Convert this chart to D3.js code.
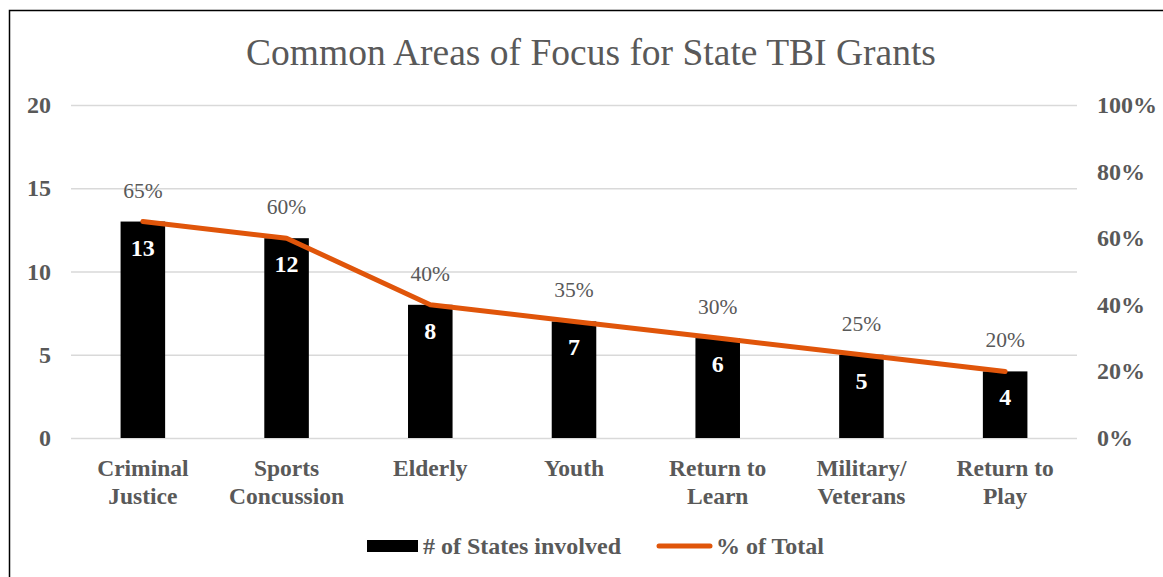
<!DOCTYPE html>
<html>
<head>
<meta charset="utf-8">
<script src="https://cdn.jsdelivr.net/npm/d3@7"></script>
<style>
  body { margin: 0; background: #fff; }
  svg { font-family: "Liberation Serif", "Times New Roman", serif; }
</style>
</head>
<body>
<div id="chart"></div>
<script>
// Chart data
var categories = [
  ['Criminal', 'Justice'],
  ['Sports', 'Concussion'],
  ['Elderly'],
  ['Youth'],
  ['Return to', 'Learn'],
  ['Military/', 'Veterans'],
  ['Return to', 'Play']
];
var stateCounts = [13, 12, 8, 7, 6, 5, 4];
var pctOfTotal = [0.65, 0.60, 0.40, 0.35, 0.30, 0.25, 0.20];
var leftTicks = [0, 5, 10, 15, 20];
var rightTicks = [0, 0.2, 0.4, 0.6, 0.8, 1.0];

var width = 1163, height = 577;
var grey = '#595959';
var orange = '#E0550A';

var svg = d3.select('#chart').append('svg')
  .attr('width', width)
  .attr('height', height);

// Outer chart border
svg.append('rect')
  .attr('x', 9.5).attr('y', 10.5)
  .attr('width', 1170).attr('height', 600)
  .attr('fill', 'none')
  .attr('stroke', '#000')
  .attr('stroke-width', 1.5);

// Title
svg.append('text')
  .attr('x', 591).attr('y', 65)
  .attr('text-anchor', 'middle')
  .style('font-size', '37.5px')
  .style('fill', grey)
  .text('Common Areas of Focus for State TBI Grants');

var plot = { left: 71, right: 1077, top: 105, bottom: 438 };

var x = d3.scaleBand()
  .domain(d3.range(categories.length))
  .range([plot.left, plot.right])
  .paddingInner(0.69)
  .paddingOuter(0.345);

var yLeft = d3.scaleLinear().domain([0, 20]).range([plot.bottom, plot.top]);
var yRight = d3.scaleLinear().domain([0, 1]).range([plot.bottom, plot.top]);

// Gridlines
svg.append('g')
  .selectAll('line')
  .data(leftTicks)
  .enter()
  .append('line')
  .attr('x1', plot.left).attr('x2', plot.right)
  .attr('y1', function(d) { return yLeft(d) + 0.5; })
  .attr('y2', function(d) { return yLeft(d) + 0.5; })
  .attr('stroke', '#d9d9d9')
  .attr('stroke-width', 1.5);

// Left axis labels
svg.append('g')
  .selectAll('text')
  .data(leftTicks)
  .enter()
  .append('text')
  .attr('x', 51)
  .attr('y', function(d) { return yLeft(d) + 8; })
  .attr('text-anchor', 'end')
  .style('font-size', '24px')
  .style('font-weight', 'bold')
  .style('fill', grey)
  .text(function(d) { return d; });

// Right axis labels
svg.append('g')
  .selectAll('text')
  .data(rightTicks)
  .enter()
  .append('text')
  .attr('x', 1097)
  .attr('y', function(d) { return yRight(d) + 8; })
  .style('font-size', '24px')
  .style('font-weight', 'bold')
  .style('fill', grey)
  .text(function(d) { return d3.format('.0%')(d); });

// Bars
svg.append('g')
  .selectAll('rect')
  .data(stateCounts)
  .enter()
  .append('rect')
  .attr('x', function(d, i) { return x(i); })
  .attr('y', function(d) { return yLeft(d); })
  .attr('width', x.bandwidth())
  .attr('height', function(d) { return yLeft(0) - yLeft(d); })
  .attr('fill', '#000');

// Bar value labels
svg.append('g')
  .selectAll('text')
  .data(stateCounts)
  .enter()
  .append('text')
  .attr('x', function(d, i) { return x(i) + x.bandwidth() / 2; })
  .attr('y', function(d) { return yLeft(d) + 34; })
  .attr('text-anchor', 'middle')
  .style('font-size', '24px')
  .style('font-weight', 'bold')
  .style('fill', '#fff')
  .text(function(d) { return d; });

// Percent line
var line = d3.line()
  .x(function(d, i) { return x(i) + x.bandwidth() / 2; })
  .y(function(d) { return yRight(d); });

svg.append('path')
  .datum(pctOfTotal)
  .attr('d', line)
  .attr('fill', 'none')
  .attr('stroke', orange)
  .attr('stroke-width', 5)
  .attr('stroke-linecap', 'round')
  .attr('stroke-linejoin', 'round');

// Percent labels
svg.append('g')
  .selectAll('text')
  .data(pctOfTotal)
  .enter()
  .append('text')
  .attr('x', function(d, i) { return x(i) + x.bandwidth() / 2; })
  .attr('y', function(d) { return yRight(d) - 24; })
  .attr('text-anchor', 'middle')
  .style('font-size', '21.5px')
  .style('fill', grey)
  .text(function(d) { return d3.format('.0%')(d); });

// Category labels
var cats = svg.append('g')
  .selectAll('text')
  .data(categories)
  .enter()
  .append('text')
  .attr('text-anchor', 'middle')
  .style('font-size', '23.5px')
  .style('font-weight', 'bold')
  .style('fill', grey);

cats.selectAll('tspan')
  .data(function(d, i) { return d.map(function(t) { return { t: t, i: i }; }); })
  .enter()
  .append('tspan')
  .attr('x', function(d) { return x(d.i) + x.bandwidth() / 2; })
  .attr('y', function(d, j) { return 476 + j * 28; })
  .text(function(d) { return d.t; });

// Legend
var legend = svg.append('g');
legend.append('rect')
  .attr('x', 367).attr('y', 540)
  .attr('width', 51).attr('height', 12)
  .attr('fill', '#000');
legend.append('text')
  .attr('x', 423).attr('y', 554)
  .style('font-size', '24px')
  .style('font-weight', 'bold')
  .style('fill', grey)
  .text('# of States involved');
legend.append('line')
  .attr('x1', 659).attr('x2', 710)
  .attr('y1', 546).attr('y2', 546)
  .attr('stroke', orange)
  .attr('stroke-width', 5)
  .attr('stroke-linecap', 'round');
legend.append('text')
  .attr('x', 716).attr('y', 554)
  .style('font-size', '24px')
  .style('font-weight', 'bold')
  .style('fill', grey)
  .text('% of Total');
</script>
</body>
</html>
